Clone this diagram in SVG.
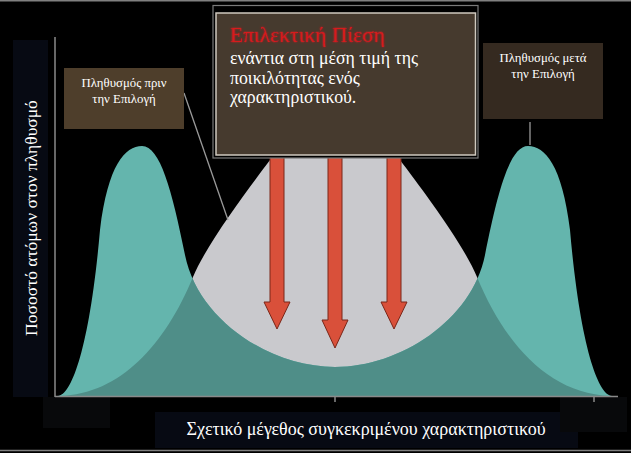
<svg xmlns="http://www.w3.org/2000/svg" width="631" height="453" viewBox="0 0 631 453">
<style>
.serif{font-family:"Liberation Serif","DejaVu Serif",serif}
.lbl{fill:#ffffff;font-size:12.8px;text-anchor:middle}
.axis{stroke:#8a8a8a;stroke-width:1.5;fill:none}
.arrow{fill:#d9503a;stroke:#7a2618;stroke-width:1}
.leader{stroke:#9a9a9a;stroke-width:1.3;fill:none}
.navy{fill:#070a13}
.dark{fill:#08090b}
.main{fill:#ffffff;font-size:17.8px}
</style>
<defs>
<path id="bellPath" d="M 60 396 C 120 394 165 345 193 277 C 207 243 252 184 270 160 C 290 133 310 105 335 105 C 360 105 380 133 400 160 C 418 184 463 243 477 277 C 505 345 550 394 610 396 Z"/>
<path id="bimodalPath" d="M 58 396 C 72 395 90 345 100 230 C 108 165 125 146 142 146 C 160 146 172 190 185 255 C 198 320 270 367 335 367 C 400 367 472 320 485 255 C 498 190 510 146 528 146 C 545 146 562 165 570 230 C 580 345 598 395 612 396 Z"/>
<clipPath id="bellClip"><use href="#bellPath"/></clipPath>
<filter id="glow" x="-10%" y="-30%" width="120%" height="160%">
<feGaussianBlur in="SourceGraphic" stdDeviation="1.2" result="b"/>
<feMerge><feMergeNode in="b"/><feMergeNode in="SourceGraphic"/></feMerge>
</filter>
</defs>
<rect x="0" y="0" width="631" height="453" fill="#000000"/>
<line x1="0" y1="0.8" x2="631" y2="0.8" stroke="#808080" stroke-width="1.5"/>
<line x1="0" y1="450.5" x2="631" y2="450.5" stroke="#808080" stroke-width="1.5"/>

<g id="backgrounds">
<rect class="navy" x="13" y="40" width="35" height="357"/>
<rect class="dark" x="43" y="397" width="67" height="31"/>
<rect class="navy" x="155" y="412" width="423" height="36"/>
<rect class="dark" x="560" y="397" width="67" height="35"/>
</g>

<g id="curves">
<use href="#bellPath" fill="#c9c9cd"/>
<use href="#bimodalPath" fill="#64b5ad"/>
<use href="#bimodalPath" fill="#4f8e88" clip-path="url(#bellClip)"/>
</g>

<g id="axes">
<line class="axis" x1="55" y1="37" x2="55" y2="397"/>
<line class="axis" x1="55" y1="396.5" x2="618" y2="396.5"/>
<line class="axis" x1="335" y1="396" x2="335" y2="402" stroke-width="1"/>
<line class="axis" x1="594" y1="396" x2="594" y2="402" stroke-width="1"/>
</g>

<g id="arrows">
<polygon class="arrow" points="270,150 284,150 284,302 290,302 277,329 264,302 270,302"/>
<polygon class="arrow" points="328,150 342,150 342,320 348,320 335,348 322,320 328,320"/>
<polygon class="arrow" points="387,150 401,150 401,302 407,302 394,329 381,302 387,302"/>
</g>

<g id="connectors">
<line class="leader" x1="184" y1="93" x2="228" y2="220"/>
<line class="leader" x1="530" y1="122" x2="530" y2="145" stroke="#666"/>
</g>

<g id="pressure-box">
<rect x="213" y="5.5" width="265" height="152.5" fill="#000000" stroke="#7a7a7a" stroke-width="1.2"/>
<rect x="216" y="13" width="259.5" height="142" fill="#463a2e" stroke="#cfc9bf" stroke-width="1.5"/>
<text class="serif" x="230" y="42" fill="#d61a1f" font-size="21.5" filter="url(#glow)">Επιλεκτική Πίεση</text>
<text class="serif main" x="230" y="64">ενάντια στη μέση τιμή της</text>
<text class="serif main" x="230" y="84">ποικιλότητας ενός</text>
<text class="serif main" x="230" y="103">χαρακτηριστικού.</text>
</g>

<g id="before-box">
<rect x="64" y="68" width="120" height="61" fill="#4e3e2b"/>
<text class="serif lbl" x="124" y="87">Πληθυσμός πριν</text>
<text class="serif lbl" x="124" y="103">την Επιλογή</text>
</g>

<g id="after-box">
<rect x="483" y="43" width="120" height="76" fill="#352a20"/>
<text class="serif lbl" x="543" y="62">Πληθυσμός μετά</text>
<text class="serif lbl" x="543" y="78">την Επιλογή</text>
</g>

<g id="axis-labels">
<text class="serif" transform="translate(37,218) rotate(-90)" text-anchor="middle" fill="#ffffff" font-size="17.5">Ποσοστό ατόμων στον πληθυσμό</text>
<text class="serif" x="366" y="435" text-anchor="middle" fill="#ffffff" font-size="18">Σχετικό μέγεθος συγκεκριμένου χαρακτηριστικού</text>
</g>
</svg>
